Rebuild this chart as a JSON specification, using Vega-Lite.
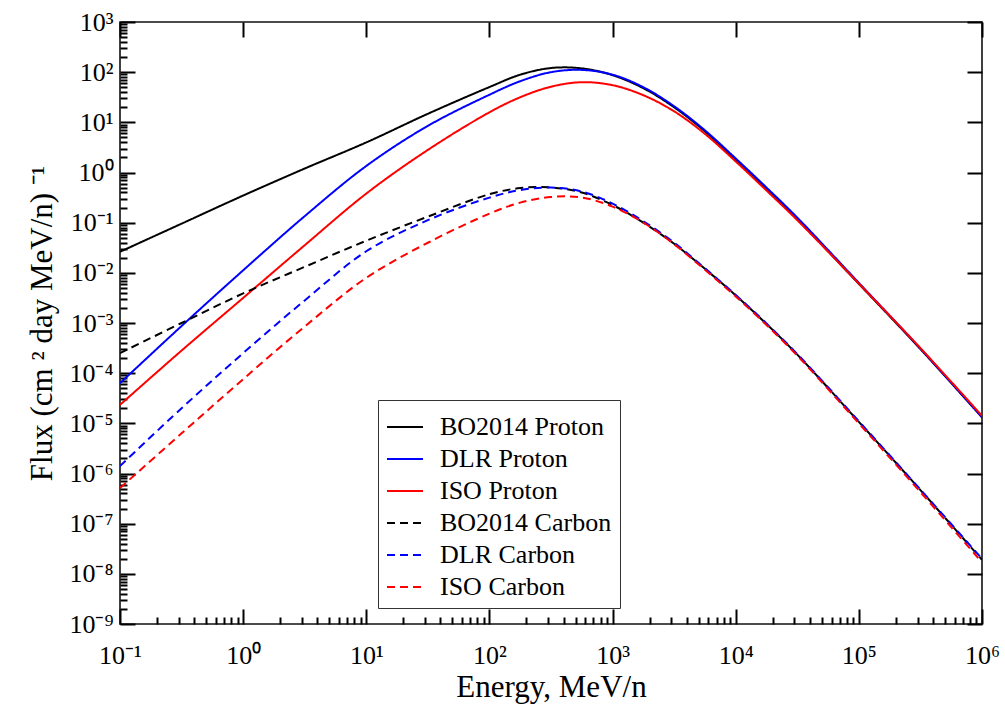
{
  "$schema": "https://vega.github.io/schema/vega-lite/v6.json",
  "width": 862,
  "height": 602,
  "autosize": {"type": "none"},
  "padding": {"left": 120, "top": 22, "right": 23, "bottom": 88},
  "background": "white",
  "config": {
    "view": {"stroke": "#111111", "strokeWidth": 1.6},
    "axis": {
      "labelFont": "Liberation Serif",
      "titleFont": "Liberation Serif",
      "labelColor": "black",
      "titleColor": "black",
      "titleFontWeight": "normal",
      "grid": false,
      "labelFlush": false,
      "labelOverlap": false,
      "labelBound": false
    },
    "legend": {
      "labelFont": "Liberation Serif",
      "labelFontSize": 26,
      "labelColor": "black",
      "labelLimit": 400
    }
  },
  "data": {
    "values": [
      {"E": 0.1, "flux": 0.0263, "series": "BO2014 Proton"},
      {"E": 0.3162, "flux": 0.0955, "series": "BO2014 Proton"},
      {"E": 1, "flux": 0.347, "series": "BO2014 Proton"},
      {"E": 3.162, "flux": 1.2, "series": "BO2014 Proton"},
      {"E": 10, "flux": 3.98, "series": "BO2014 Proton"},
      {"E": 31.62, "flux": 14.8, "series": "BO2014 Proton"},
      {"E": 100, "flux": 50.5, "series": "BO2014 Proton"},
      {"E": 177.8, "flux": 89.0, "series": "BO2014 Proton"},
      {"E": 316.2, "flux": 121, "series": "BO2014 Proton"},
      {"E": 562.3, "flux": 119, "series": "BO2014 Proton"},
      {"E": 1000, "flux": 87.1, "series": "BO2014 Proton"},
      {"E": 1778, "flux": 47.9, "series": "BO2014 Proton"},
      {"E": 3162, "flux": 19.95, "series": "BO2014 Proton"},
      {"E": 5623, "flux": 6.61, "series": "BO2014 Proton"},
      {"E": 10000, "flux": 1.778, "series": "BO2014 Proton"},
      {"E": 17783, "flux": 0.468, "series": "BO2014 Proton"},
      {"E": 31623, "flux": 0.1175, "series": "BO2014 Proton"},
      {"E": 100000, "flux": 6.03e-3, "series": "BO2014 Proton"},
      {"E": 316228, "flux": 3.02e-4, "series": "BO2014 Proton"},
      {"E": 1000000, "flux": 1.32e-5, "series": "BO2014 Proton"},

      {"E": 0.1, "flux": 6.31e-5, "series": "DLR Proton"},
      {"E": 0.3162, "flux": 8.71e-4, "series": "DLR Proton"},
      {"E": 1, "flux": 0.01122, "series": "DLR Proton"},
      {"E": 3.162, "flux": 0.1349, "series": "DLR Proton"},
      {"E": 10, "flux": 1.35, "series": "DLR Proton"},
      {"E": 31.62, "flux": 8.5, "series": "DLR Proton"},
      {"E": 100, "flux": 35.5, "series": "DLR Proton"},
      {"E": 177.8, "flux": 66.0, "series": "DLR Proton"},
      {"E": 316.2, "flux": 100.0, "series": "DLR Proton"},
      {"E": 562.3, "flux": 111.0, "series": "DLR Proton"},
      {"E": 1000, "flux": 89.1, "series": "DLR Proton"},
      {"E": 1778, "flux": 50.1, "series": "DLR Proton"},
      {"E": 3162, "flux": 20.9, "series": "DLR Proton"},
      {"E": 5623, "flux": 6.92, "series": "DLR Proton"},
      {"E": 10000, "flux": 1.905, "series": "DLR Proton"},
      {"E": 17783, "flux": 0.501, "series": "DLR Proton"},
      {"E": 31623, "flux": 0.1259, "series": "DLR Proton"},
      {"E": 100000, "flux": 6.31e-3, "series": "DLR Proton"},
      {"E": 316228, "flux": 3.09e-4, "series": "DLR Proton"},
      {"E": 1000000, "flux": 1.33e-5, "series": "DLR Proton"},

      {"E": 0.1, "flux": 2.34e-5, "series": "ISO Proton"},
      {"E": 0.3162, "flux": 2.82e-4, "series": "ISO Proton"},
      {"E": 1, "flux": 3.16e-3, "series": "ISO Proton"},
      {"E": 3.162, "flux": 0.0355, "series": "ISO Proton"},
      {"E": 10, "flux": 0.38, "series": "ISO Proton"},
      {"E": 31.62, "flux": 2.82, "series": "ISO Proton"},
      {"E": 100, "flux": 15.85, "series": "ISO Proton"},
      {"E": 177.8, "flux": 31.6, "series": "ISO Proton"},
      {"E": 316.2, "flux": 51.3, "series": "ISO Proton"},
      {"E": 562.3, "flux": 63.1, "series": "ISO Proton"},
      {"E": 1000, "flux": 55.0, "series": "ISO Proton"},
      {"E": 1778, "flux": 34.7, "series": "ISO Proton"},
      {"E": 3162, "flux": 16.6, "series": "ISO Proton"},
      {"E": 5623, "flux": 5.89, "series": "ISO Proton"},
      {"E": 10000, "flux": 1.66, "series": "ISO Proton"},
      {"E": 17783, "flux": 0.437, "series": "ISO Proton"},
      {"E": 31623, "flux": 0.1122, "series": "ISO Proton"},
      {"E": 100000, "flux": 6.1e-3, "series": "ISO Proton"},
      {"E": 316228, "flux": 3.16e-4, "series": "ISO Proton"},
      {"E": 1000000, "flux": 1.41e-5, "series": "ISO Proton"},

      {"E": 0.1, "flux": 2.51e-4, "series": "BO2014 Carbon"},
      {"E": 0.3162, "flux": 1.0e-3, "series": "BO2014 Carbon"},
      {"E": 1, "flux": 3.89e-3, "series": "BO2014 Carbon"},
      {"E": 3.162, "flux": 0.01318, "series": "BO2014 Carbon"},
      {"E": 10, "flux": 0.0437, "series": "BO2014 Carbon"},
      {"E": 31.62, "flux": 0.1318, "series": "BO2014 Carbon"},
      {"E": 100, "flux": 0.37, "series": "BO2014 Carbon"},
      {"E": 177.8, "flux": 0.49, "series": "BO2014 Carbon"},
      {"E": 316.2, "flux": 0.505, "series": "BO2014 Carbon"},
      {"E": 562.3, "flux": 0.398, "series": "BO2014 Carbon"},
      {"E": 1000, "flux": 0.224, "series": "BO2014 Carbon"},
      {"E": 1778, "flux": 0.1, "series": "BO2014 Carbon"},
      {"E": 3162, "flux": 0.038, "series": "BO2014 Carbon"},
      {"E": 5623, "flux": 0.01202, "series": "BO2014 Carbon"},
      {"E": 10000, "flux": 3.55e-3, "series": "BO2014 Carbon"},
      {"E": 17783, "flux": 9.55e-4, "series": "BO2014 Carbon"},
      {"E": 31623, "flux": 2.34e-4, "series": "BO2014 Carbon"},
      {"E": 100000, "flux": 1.07e-5, "series": "BO2014 Carbon"},
      {"E": 316228, "flux": 4.68e-7, "series": "BO2014 Carbon"},
      {"E": 1000000, "flux": 1.905e-8, "series": "BO2014 Carbon"},

      {"E": 0.1, "flux": 1.41e-6, "series": "DLR Carbon"},
      {"E": 0.3162, "flux": 2.0e-5, "series": "DLR Carbon"},
      {"E": 1, "flux": 2.51e-4, "series": "DLR Carbon"},
      {"E": 3.162, "flux": 2.82e-3, "series": "DLR Carbon"},
      {"E": 10, "flux": 0.0269, "series": "DLR Carbon"},
      {"E": 31.62, "flux": 0.1122, "series": "DLR Carbon"},
      {"E": 100, "flux": 0.316, "series": "DLR Carbon"},
      {"E": 177.8, "flux": 0.447, "series": "DLR Carbon"},
      {"E": 316.2, "flux": 0.501, "series": "DLR Carbon"},
      {"E": 562.3, "flux": 0.417, "series": "DLR Carbon"},
      {"E": 1000, "flux": 0.24, "series": "DLR Carbon"},
      {"E": 1778, "flux": 0.107, "series": "DLR Carbon"},
      {"E": 3162, "flux": 0.0398, "series": "DLR Carbon"},
      {"E": 5623, "flux": 0.0123, "series": "DLR Carbon"},
      {"E": 10000, "flux": 3.63e-3, "series": "DLR Carbon"},
      {"E": 17783, "flux": 9.77e-4, "series": "DLR Carbon"},
      {"E": 31623, "flux": 2.4e-4, "series": "DLR Carbon"},
      {"E": 100000, "flux": 1.1e-5, "series": "DLR Carbon"},
      {"E": 316228, "flux": 4.79e-7, "series": "DLR Carbon"},
      {"E": 1000000, "flux": 2.0e-8, "series": "DLR Carbon"},

      {"E": 0.1, "flux": 5.13e-7, "series": "ISO Carbon"},
      {"E": 0.3162, "flux": 6.31e-6, "series": "ISO Carbon"},
      {"E": 1, "flux": 7.59e-5, "series": "ISO Carbon"},
      {"E": 3.162, "flux": 8.51e-4, "series": "ISO Carbon"},
      {"E": 10, "flux": 7.94e-3, "series": "ISO Carbon"},
      {"E": 31.62, "flux": 0.0398, "series": "ISO Carbon"},
      {"E": 100, "flux": 0.151, "series": "ISO Carbon"},
      {"E": 177.8, "flux": 0.251, "series": "ISO Carbon"},
      {"E": 316.2, "flux": 0.325, "series": "ISO Carbon"},
      {"E": 562.3, "flux": 0.318, "series": "ISO Carbon"},
      {"E": 1000, "flux": 0.209, "series": "ISO Carbon"},
      {"E": 1778, "flux": 0.1, "series": "ISO Carbon"},
      {"E": 3162, "flux": 0.0372, "series": "ISO Carbon"},
      {"E": 5623, "flux": 0.01148, "series": "ISO Carbon"},
      {"E": 10000, "flux": 3.39e-3, "series": "ISO Carbon"},
      {"E": 17783, "flux": 9.12e-4, "series": "ISO Carbon"},
      {"E": 31623, "flux": 2.24e-4, "series": "ISO Carbon"},
      {"E": 100000, "flux": 1.0e-5, "series": "ISO Carbon"},
      {"E": 316228, "flux": 4.27e-7, "series": "ISO Carbon"},
      {"E": 1000000, "flux": 1.7e-8, "series": "ISO Carbon"}
    ]
  },
  "layer": [
    {
      "mark": {"type": "line", "strokeWidth": 2, "interpolate": "catmull-rom", "clip": true},
      "encoding": {
        "x": {
          "field": "E", "type": "quantitative",
          "scale": {"type": "log", "domain": [0.1, 1000000], "nice": false},
          "axis": {
            "orient": "bottom",
            "values": [0.1, 1, 10, 100, 1000, 10000, 100000, 1000000],
            "domain": false,
            "ticks": true,
            "tickColor": "black",
            "tickWidth": 2,
            "tickSize": -15,
            "labelPadding": 33,
            "labelFontSize": 26,
            "labelExpr": "'10' + ['⁻¹','⁰','¹','²','³','⁴','⁵','⁶'][round(log(datum.value)/LN10)+1]",
            "title": "Energy, MeV/n",
            "titleFontSize": 31,
            "titlePadding": 4
          }
        },
        "y": {
          "field": "flux", "type": "quantitative",
          "scale": {"type": "log", "domain": [1e-9, 1000], "nice": false},
          "axis": {
            "orient": "left",
            "values": [1e-9, 1e-8, 1e-7, 1e-6, 1e-5, 1e-4, 1e-3, 1e-2, 1e-1, 1, 10, 100, 1000],
            "domain": false,
            "ticks": true,
            "tickColor": "black",
            "tickWidth": 2,
            "tickSize": -15,
            "labelPadding": 22,
            "labelFontSize": 26,
            "labelBaseline": "middle",
            "labelDy": 4,
            "labelExpr": "'10' + ['⁻⁹','⁻⁸','⁻⁷','⁻⁶','⁻⁵','⁻⁴','⁻³','⁻²','⁻¹','⁰','¹','²','³'][round(log(datum.value)/LN10)+9]",
            "title": "Flux (cm ² day MeV/n) ⁻¹",
            "titleFontSize": 31,
            "titlePadding": 10
          }
        },
        "color": {
          "field": "series", "type": "nominal",
          "scale": {
            "domain": ["BO2014 Proton", "DLR Proton", "ISO Proton", "BO2014 Carbon", "DLR Carbon", "ISO Carbon"],
            "range": ["#000000", "#0000ff", "#ff0000", "#000000", "#0000ff", "#ff0000"]
          },
          "legend": {
            "title": null,
            "orient": "none",
            "legendX": 258,
            "legendY": 378,
            "symbolType": "stroke",
            "symbolSize": 1296,
            "symbolStrokeWidth": 2,
            "strokeColor": "#333333",
            "fillColor": "white",
            "padding": 8,
            "rowPadding": 0,
            "labelOffset": 16
          }
        },
        "strokeDash": {
          "field": "series", "type": "nominal",
          "scale": {
            "domain": ["BO2014 Proton", "DLR Proton", "ISO Proton", "BO2014 Carbon", "DLR Carbon", "ISO Carbon"],
            "range": [[1, 0], [1, 0], [1, 0], [8, 5], [8, 5], [8, 5]]
          }
        }
      }
    },
    {
      "mark": {"type": "point", "opacity": 0},
      "encoding": {
        "x": {
          "field": "E", "type": "quantitative",
          "scale": {"type": "log", "domain": [0.1, 1000000], "nice": false},
          "axis": {
            "orient": "bottom", "labels": false, "title": null, "domain": false, "ticks": true, "tickColor": "black", "tickWidth": 2, "tickSize": -7,
            "values": [0.2,0.3,0.4,0.5,0.6,0.7,0.8,0.9,2,3,4,5,6,7,8,9,20,30,40,50,60,70,80,90,200,300,400,500,600,700,800,900,2000,3000,4000,5000,6000,7000,8000,9000,20000,30000,40000,50000,60000,70000,80000,90000,200000,300000,400000,500000,600000,700000,800000,900000]
          }
        },
        "y": {
          "field": "flux", "type": "quantitative",
          "scale": {"type": "log", "domain": [1e-9, 1000], "nice": false},
          "axis": {
            "orient": "left", "labels": false, "title": null, "domain": false, "ticks": true, "tickColor": "black", "tickWidth": 2, "tickSize": -7,
            "values": [2e-9,3e-9,4e-9,5e-9,6e-9,7e-9,8e-9,9e-9,2e-8,3e-8,4e-8,5e-8,6e-8,7e-8,8e-8,9e-8,2e-7,3e-7,4e-7,5e-7,6e-7,7e-7,8e-7,9e-7,2e-6,3e-6,4e-6,5e-6,6e-6,7e-6,8e-6,9e-6,2e-5,3e-5,4e-5,5e-5,6e-5,7e-5,8e-5,9e-5,2e-4,3e-4,4e-4,5e-4,6e-4,7e-4,8e-4,9e-4,0.002,0.003,0.004,0.005,0.006,0.007,0.008,0.009,0.02,0.03,0.04,0.05,0.06,0.07,0.08,0.09,0.2,0.3,0.4,0.5,0.6,0.7,0.8,0.9,2,3,4,5,6,7,8,9,20,30,40,50,60,70,80,90,200,300,400,500,600,700,800,900]
          }
        }
      }
    },
    {
      "mark": {"type": "point", "opacity": 0},
      "encoding": {
        "x": {
          "field": "E", "type": "quantitative",
          "scale": {"type": "log", "domain": [0.1, 1000000], "nice": false},
          "axis": {
            "orient": "top", "labels": false, "title": null, "domain": false, "ticks": true, "tickColor": "black", "tickWidth": 2, "tickSize": -15,
            "values": [0.1, 1, 10, 100, 1000, 10000, 100000, 1000000]
          }
        },
        "y": {
          "field": "flux", "type": "quantitative",
          "scale": {"type": "log", "domain": [1e-9, 1000], "nice": false},
          "axis": {
            "orient": "right", "labels": false, "title": null, "domain": false, "ticks": true, "tickColor": "black", "tickWidth": 2, "tickSize": -15,
            "values": [1e-9, 1e-8, 1e-7, 1e-6, 1e-5, 1e-4, 1e-3, 1e-2, 1e-1, 1, 10, 100, 1000]
          }
        }
      }
    }
  ],
  "resolve": {"axis": {"x": "independent", "y": "independent"}}
}
